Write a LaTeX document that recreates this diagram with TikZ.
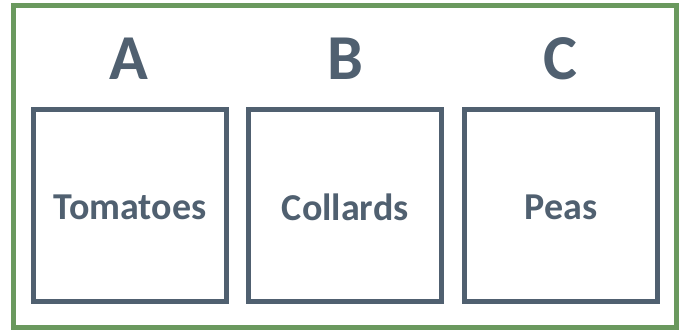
\documentclass[tikz,border=0pt]{standalone}
\usepackage{fontspec}
\setmainfont{Carlito}
\definecolor{slate}{RGB}{80,96,112}
\definecolor{leaf}{RGB}{106,153,94}
\begin{document}
\begin{tikzpicture}[x=1pt,y=-1pt,
  bed/.style={draw=slate,line width=5pt,minimum width=193pt,minimum height=191.5pt,inner sep=0pt},
  crop/.style={font=\fontsize{38}{40}\selectfont\bfseries,text=slate,inner sep=0pt},
  letter/.style={font=\fontsize{64}{70}\selectfont\bfseries,text=slate,inner sep=0pt}]
\useasboundingbox (0,0) rectangle (681,330);
\draw[leaf,line width=5pt] (13.5,5.5) rectangle (676,327.5);
\node[bed] (a) at (130,205.25) {};
\node[bed] (b) at (345.25,205.25) {};
\node[bed] (c) at (561,205.25) {};
\node[crop] (ta) at ([yshift=-2pt]a.center) {Tomatoes};
\node[crop] (tb) at ([yshift=-2pt]b.center) {Collards};
\node[crop] (tc) at ([yshift=-2pt]c.center) {Peas};
\node[letter] (la) at (128.5,58.5) {A};
\node[letter] (lb) at (345,58.5) {B};
\node[letter] (lc) at (560,58.5) {C};
\end{tikzpicture}
\end{document}
